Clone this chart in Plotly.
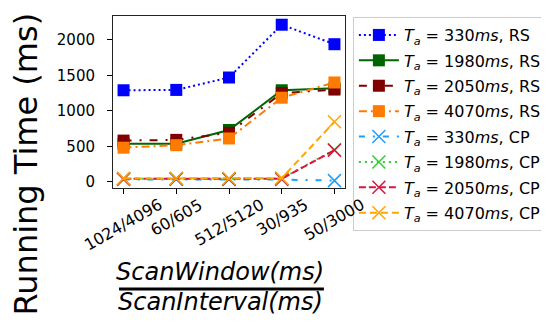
import plotly.graph_objects as go

categories = ["1024/4096", "60/605", "512/5120", "30/935", "50/3000"]

rs_330 = [1290, 1295, 1470, 2215, 1940]
rs_1980 = [535, 535, 730, 1290, 1320]
rs_2050 = [580, 590, 690, 1250, 1300]
rs_4070 = [480, 515, 610, 1185, 1400]
cp_330 = [30, 35, 30, 30, 15]
cp_1980 = [40, 45, 40, 45, 450]
cp_2050 = [40, 40, 40, 40, 445]
cp_4070 = [45, 45, 45, 50, 845]

y_ticks = [0, 500, 1000, 1500, 2000]

series = [
    ("330", "RS", rs_330, "#0000ff", "2px,3px", "square"),
    ("1980", "RS", rs_1980, "#006400", "solid", "square"),
    ("2050", "RS", rs_2050, "#800000", "8px,8px,2px,8px", "square"),
    ("4070", "RS", rs_4070, "#ff7a00", "8px,4px,2px,4px", "square"),
    ("330", "CP", cp_330, "#1a9fff", "6px,8px,2px,8px", "x-thin"),
    ("1980", "CP", cp_1980, "#32cd32", "2px,4px", "x-thin"),
    ("2050", "CP", cp_2050, "#dc143c", "7px,3px", "x-thin"),
    ("4070", "CP", cp_4070, "#ffa500", "7px,4px", "x-thin"),
]

fig = go.Figure()
for i, (ta, kind, vals, color, dash, sym) in enumerate(series):
    name = f"<i>T</i><sub><i>a</i></sub> = {ta}<i>ms</i>, {kind}"
    if sym == "square":
        marker = dict(symbol="square", size=12, color=color, line=dict(width=0))
    else:
        marker = dict(symbol="x-thin", size=13, color=color, line=dict(width=1.5, color=color))
    fig.add_trace(go.Scatter(
        x=categories, y=vals, mode="lines+markers", name=name, legendgroup=f"g{i}",
        line=dict(color=color, width=2, dash=dash), marker=marker,
    ))

fig.update_xaxes(
    type="category", range=[-0.2, 4.2], showticklabels=False,
    ticks="outside", ticklen=5, tickcolor="black",
    showline=True, mirror=True, linecolor="#222", linewidth=1, showgrid=False, zeroline=False,
)
fig.update_yaxes(
    range=[-89, 2338], tickvals=y_ticks, ticks="outside", ticklen=5, tickcolor="black",
    tickfont=dict(size=15, color="black", family="DejaVu Sans"), ticklabelstandoff=9,
    showline=True, mirror=True, linecolor="#222", linewidth=1, showgrid=False, zeroline=False,
)

annotations = []
for c in categories:
    annotations.append(dict(
        x=c, xref="x", y=-0.024, yref="paper", text=c, showarrow=False,
        textangle=-30, xanchor="center", yanchor="top",
        font=dict(size=16, color="black", family="DejaVu Sans"),
    ))
annotations.append(dict(
    x=-0.377, xref="paper", y=0.14, yref="paper", text="Running Time (ms)", showarrow=False,
    textangle=-90, xanchor="center", yanchor="middle", borderpad=0,
    font=dict(size=32, color="black", family="DejaVu Sans"),
))
annotations.append(dict(
    x=0.463, xref="paper", y=-0.49, yref="paper", text="<i>ScanWindow(ms)</i>", showarrow=False,
    xanchor="center", yanchor="middle", font=dict(size=24, color="black", family="DejaVu Sans"),
))
annotations.append(dict(
    x=0.463, xref="paper", y=-0.665, yref="paper", text="<i>ScanInterval(ms)</i>", showarrow=False,
    xanchor="center", yanchor="middle", font=dict(size=24, color="black", family="DejaVu Sans"),
))

fig.add_shape(type="line", xref="paper", yref="paper", x0=0.026, x1=0.909, y0=-0.587, y1=-0.587,
              line=dict(color="black", width=3))

fig.update_layout(
    width=549, height=326,
    margin=dict(l=105, r=212, t=8, b=146, autoexpand=False),
    plot_bgcolor="white", paper_bgcolor="white",
    annotations=annotations,
    font=dict(family="DejaVu Sans", color="black"),
    legend=dict(
        x=1.034, y=0.994, xanchor="left", yanchor="top",
        font=dict(size=16, color="black", family="DejaVu Sans"),
        bordercolor="#cccccc", borderwidth=1, bgcolor="white",
        itemwidth=40, tracegroupgap=1.6, maxheight=300,
    ),
    showlegend=True,
)

fig.write_html("out.html")
